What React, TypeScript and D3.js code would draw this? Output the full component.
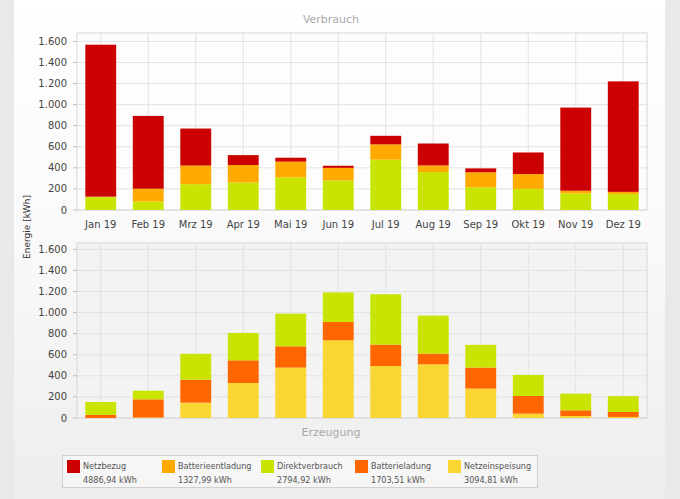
import React from "react";
import * as d3 from "d3";

const months = ["Jan 19", "Feb 19", "Mrz 19", "Apr 19", "Mai 19", "Jun 19", "Jul 19", "Aug 19", "Sep 19", "Okt 19", "Nov 19", "Dez 19"];
const netzbezug = [1442, 691, 351, 94, 37, 20, 81, 208, 37, 204, 789, 1049];
const batterieentladung = [5, 120, 177, 167, 149, 120, 145, 63, 142, 142, 25, 22];
const direktverbrauch = [122, 82, 245, 260, 310, 280, 478, 360, 216, 200, 158, 150];
const batterieladung = [30, 172, 218, 215, 202, 174, 203, 102, 199, 168, 54, 47];
const netzeinspeisung = [0, 5, 146, 332, 478, 737, 493, 509, 279, 41, 19, 10];
const yTicks = [0, 200, 400, 600, 800, 1000, 1200, 1400, 1600];
const legendNames = ["Netzbezug", "Batterieentladung", "Direktverbrauch", "Batterieladung", "Netzeinspeisung"];
const legendTotals = ["4886,94 kWh", "1327,99 kWh", "2794,92 kWh", "1703,51 kWh", "3094,81 kWh"];

const COL = {
  netzbezug: "#cc0000",
  entladung: "#ffaa00",
  direkt: "#c8e400",
  ladung: "#ff6600",
  einspeisung: "#fad632",
};
const legendColors = [COL.netzbezug, COL.entladung, COL.direkt, COL.ladung, COL.einspeisung];

const FONT = "DejaVu Sans, Verdana, sans-serif";
const LFONT = "DejaVu Sans Condensed, DejaVu Sans, sans-serif";
const fmt = (v: number) => d3.format(",")(v).replace(/,/g, ".");

const X0 = 77, X1 = 647;

function StackChart({ top, bottom, max, series, bg, showX }: any) {
  const x = d3.scaleBand().domain(months).range([X0, X1]).paddingInner(0.35).paddingOuter(0.175);
  const y = d3.scaleLinear().domain([0, max]).range([bottom, top]);
  const keys = series.map((s: any) => s.key);
  const rows = months.map((m, i) => {
    const r: any = { m };
    series.forEach((s: any) => (r[s.key] = s.values[i]));
    return r;
  });
  const stacked = d3.stack().keys(keys)(rows);
  return (
    <g>
      <rect x={X0} y={top} width={X1 - X0} height={bottom - top} fill={bg} />
      {yTicks.map((t) => (
        <g key={t}>
          <line x1={X0} x2={X1} y1={y(t)} y2={y(t)} stroke="#e2e2e2" strokeWidth={1} />
          <line x1={X0 - 4} x2={X0} y1={y(t)} y2={y(t)} stroke="#bbbbbb" strokeWidth={1} />
          <text x={67} y={y(t)} dy="0.35em" textAnchor="end" fontFamily={FONT} fontSize={10} fill="#444">
            {fmt(t)}
          </text>
        </g>
      ))}
      {months.map((m) => (
        <line key={m} x1={(x(m) as number) + x.bandwidth() / 2} x2={(x(m) as number) + x.bandwidth() / 2} y1={top} y2={bottom} stroke="#e2e2e2" strokeWidth={1} />
      ))}
      <rect x={X0} y={top} width={X1 - X0} height={bottom - top} fill="none" stroke="#d6d6d6" strokeWidth={1} />
      {stacked.map((layer: any, li: number) => (
        <g key={layer.key} fill={series[li].color}>
          {layer.map((d: any, i: number) => (
            <rect key={i} x={x(months[i])} y={y(d[1])} width={x.bandwidth()} height={Math.max(0, y(d[0]) - y(d[1]))} />
          ))}
        </g>
      ))}
      {showX &&
        months.map((m) => (
          <text key={m} x={(x(m) as number) + x.bandwidth() / 2} y={bottom + 18} textAnchor="middle" fontFamily={FONT} fontSize={10} fill="#444">
            {m}
          </text>
        ))}
    </g>
  );
}

export default function App() {
  const topSeries = [
    { key: "direkt", values: direktverbrauch, color: COL.direkt },
    { key: "entladung", values: batterieentladung, color: COL.entladung },
    { key: "netzbezug", values: netzbezug, color: COL.netzbezug },
  ];
  const bottomSeries = [
    { key: "einspeisung", values: netzeinspeisung, color: COL.einspeisung },
    { key: "ladung", values: batterieladung, color: COL.ladung },
    { key: "direkt", values: direktverbrauch, color: COL.direkt },
  ];
  const legendX = [67, 162, 261, 355, 448];
  return (
    <svg width={680} height={499} style={{ position: "absolute", left: 0, top: 0, display: "block" }}>
      <defs>
        <linearGradient id="panel" x1="0" y1="0" x2="0" y2="1">
          <stop offset="0" stopColor="#ffffff" />
          <stop offset="0.45" stopColor="#fafafa" />
          <stop offset="1" stopColor="#ededed" />
        </linearGradient>
      </defs>
      <rect x={0} y={0} width={680} height={499} fill="#e9e9e9" />
      <rect x={14} y={0} width={651} height={499} fill="url(#panel)" />
      <text x={331} y={23} textAnchor="middle" fontFamily={FONT} fontSize={11} fill="#a8a8a8">Verbrauch</text>
      <StackChart top={33} bottom={210} max={1680} series={topSeries} bg="#fdfdfd" showX />
      <StackChart top={243} bottom={418} max={1660} series={bottomSeries} bg="#f3f3f3" showX={false} />
      <text x={331} y={436} textAnchor="middle" fontFamily={FONT} fontSize={11} fill="#a8a8a8">Erzeugung</text>
      <text transform="translate(30,227) rotate(-90)" textAnchor="middle" fontFamily={FONT} fontSize={9} fill="#333">Energie [kWh]</text>
      <rect x={62.5} y={455.5} width={475} height={32} fill="#f6f6f6" stroke="#d0d0d0" strokeWidth={1} />
      {legendNames.map((n, i) => (
        <g key={n}>
          <rect x={legendX[i]} y={460} width={13} height={13} fill={legendColors[i]} />
          <text x={legendX[i] + 16} y={469} fontFamily={LFONT} fontSize={9} fill="#555">{n}</text>
          <text x={legendX[i] + 16} y={483} fontFamily={LFONT} fontSize={9} fill="#555">{legendTotals[i]}</text>
        </g>
      ))}
    </svg>
  );
}
